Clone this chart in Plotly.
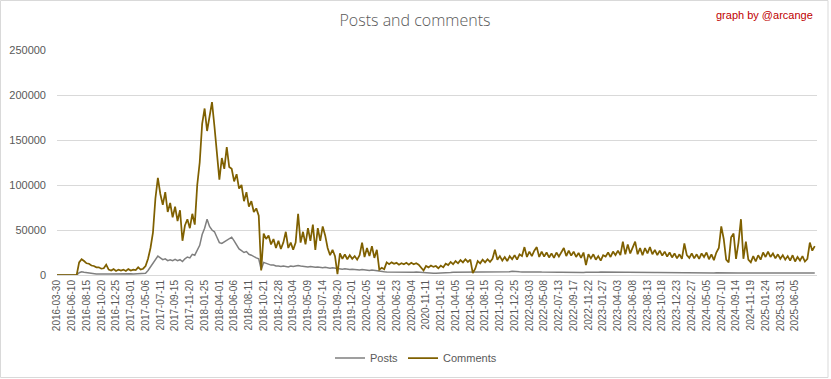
import plotly.graph_objects as go

# Category tick labels (every 66th day on the category axis)
tick_labels = [
    "2016-03-30", "2016-06-10", "2016-08-15", "2016-10-20", "2016-12-25", "2017-03-01",
    "2017-05-06", "2017-07-11", "2017-09-15", "2017-11-20", "2018-01-25", "2018-04-01",
    "2018-06-06", "2018-08-11", "2018-10-21", "2018-12-28", "2019-03-04", "2019-05-09",
    "2019-07-14", "2019-09-20", "2019-12-01", "2020-02-05", "2020-04-16", "2020-06-23",
    "2020-09-04", "2020-11-11", "2021-01-16", "2021-04-05", "2021-06-10", "2021-08-15",
    "2021-10-20", "2021-12-25", "2022-03-03", "2022-05-08", "2022-07-13", "2022-09-17",
    "2022-11-22", "2023-01-27", "2023-04-03", "2023-06-08", "2023-08-13", "2023-10-18",
    "2023-12-23", "2024-02-27", "2024-05-05", "2024-07-10", "2024-09-14", "2024-11-19",
    "2025-01-24", "2025-03-31", "2025-06-05",
]
label_every = 66          # categories between labels
total_categories = 3398
sample_step = 11          # categories between samples

# Comments, sampled every 11 categories (thousands)
comments_k = [
    0, 0, 0, 0, 0, 0, 0, 0, 0,
    14, 17.5, 15.5, 13, 12.5, 10.5, 10, 8.5, 8.5, 7, 7.5,
    11.5,
    6, 5, 6.5, 4.5, 6, 5, 6, 4.5, 6.5, 5, 6, 5.5, 8.5, 6, 7,
    10, 18, 30, 47, 85, 108,
    90, 78, 92, 70, 80, 64, 76, 60, 72,
    38,
    55, 62, 52, 68, 56,
    100, 125, 168, 185, 160, 175, 192, 165,
    132, 106, 130, 118, 142, 120, 118, 104, 112, 96, 100, 82, 92, 76, 82, 70, 74, 66,
    5,
    46, 40, 44, 34, 40, 30, 38, 29, 36, 48, 30, 36, 28, 36,
    68,
    36, 48, 34, 52, 38, 56, 28, 52, 38, 54, 44,
    30, 22, 28, 21,
    1,
    24, 18, 23, 17.5, 22, 18, 21, 17, 22, 36, 20, 30, 21, 32, 19, 28,
    6, 8, 6.5,
    14, 12, 14, 12.5, 13.5, 11.5, 13, 12, 13.5, 11.5, 13.5, 12, 13, 11.5,
    8, 5,
    10, 8.5, 10.5, 9, 10, 7.5, 10.5, 8.5,
    12.5, 11, 14.5, 12, 15.5, 13, 16.5, 14, 17.5, 14.5, 17,
    2, 7,
    15.5, 13, 17, 14, 17.5, 14.5, 18,
    28,
    17, 21, 16, 20, 15.5, 21, 17.5, 22, 17, 23, 21,
    31,
    20, 26, 21, 27, 31, 20, 26, 20.5, 25, 19.5, 24, 19, 25, 20.5, 26,
    30,
    21, 27, 21.5, 26, 20, 24.5, 19, 25,
    11,
    23, 18.5, 23, 17, 21, 16, 22, 20.5, 25, 20, 26, 22, 27, 22,
    37,
    23, 34, 24, 31, 37, 23, 30, 22, 30, 24,
    31, 23, 28, 22, 27, 21.5, 26, 20.5, 25, 19.5, 24, 18.5, 23, 18,
    35,
    22, 19, 24, 18.5, 23, 18, 24, 20, 25, 17.5, 23, 16.5, 25,
    30, 54, 40, 17, 14, 42, 46, 18, 36, 62, 18, 37,
    17, 14, 21, 15, 22, 17, 25, 20, 26, 20, 24, 18.5, 23, 18, 22, 17, 21, 16, 22, 15,
    20, 16, 21, 15, 18,
    36, 27, 32,
]

# Posts, sampled every 11 categories (thousands)
posts_k = [
    0, 0, 0, 0, 0, 0, 0, 0, 0,
    2.5, 3.5, 3, 2.5, 2, 1.8, 1.5,
    1.2, 1, 1.3, 1, 1.2, 1, 1.1, 1, 1.2, 1, 1.1, 1, 1.2, 1, 1.3, 1.1, 1.4, 1.2, 1.3, 1.5,
    2, 5, 9, 14, 18, 21,
    19, 17, 18, 16, 17, 16, 17.5, 16, 17, 15, 18, 20, 19, 23, 22,
    28, 33, 45, 52, 62, 54, 50, 48, 42, 36, 35, 37, 39, 40, 42, 38, 33, 29, 27, 25,
    26, 23, 22, 20, 19, 18,
    6,
    14, 13, 12, 11, 11, 10, 10, 9.5, 10, 9.5, 9, 10, 9.5, 10, 10.5, 10, 9.5,
    9.5, 9, 9.5, 9, 8.5, 9, 8.5, 8, 8.5, 8, 7.5, 8, 7.5, 7, 7, 6.5, 7, 6.5, 6, 6.5,
    6, 6, 5.5, 6, 5.5, 5.5, 5, 5.5, 5, 5,
    3.8, 3.6, 3.5, 3.4, 3.3, 3.4, 3.3, 3.3, 3.4, 3.3, 3.2, 3.3, 3.2, 3.2, 3.1, 3.2, 3,
    2.2, 2, 2, 1.9, 2, 1.9, 2, 2, 2.1, 2.2, 2.4, 2.6,
    2.8, 3, 3, 3.1, 3, 3, 3.1, 3, 3.2, 3,
    3.1, 3, 3.2, 3.1, 3.2, 3.3, 3.2, 3.4, 3.3, 3.5,
    3.4, 3.6, 3.5, 3.8, 3.6, 4.2, 3.7, 3.6, 3.5, 3.4,
    3.5, 3.4, 3.3, 3.4, 3.3, 3.2, 3.3, 3.2, 3.3, 3.2,
    3.1, 3.2, 3.1, 3.2, 3.1, 3.1, 3, 3.1, 3, 3.1,
    3, 3, 2.9, 3, 2.9, 3, 2.9, 3.1, 3, 3.2,
    3.1, 3.3, 3.2, 3.4, 3.3, 3.2, 3.3, 3.2, 3.1, 3.2,
    3.1, 3, 3.1, 3, 3, 2.9, 3, 2.9, 2.9, 2.8,
    2.9, 2.8, 2.8, 2.7, 2.8, 2.7, 2.7, 2.6, 2.7, 2.6,
    2.7, 2.6, 2.6, 2.5, 2.6, 2.5, 2.6, 2.5, 2.5, 2.4,
    2.5, 2.4, 2.5, 2.4, 2.4, 2.3, 2.4, 2.3, 2.4, 2.3,
    2.4, 2.3, 2.3, 2.2, 2.3, 2.2, 2.3, 2.2, 2.3, 2.2,
    2.3, 2.2, 2.2, 2.1, 2.2, 2.1, 2.2, 2.1, 2.2, 2.1,
    2.2, 2.1, 2.1, 2.2, 2.1, 2.2, 2.1, 2.2, 2.1, 2.2,
    2.1, 2.2, 2.1, 2.2, 2.2, 2.1, 2.3, 2.2, 2.3,
]

y_ticks = [0, 50000, 100000, 150000, 200000, 250000]

comments = [v * 1000 for v in comments_k]
posts = [v * 1000 for v in posts_k]
x_comments = [i * sample_step for i in range(len(comments))]
x_posts = [i * sample_step for i in range(len(posts))]
tick_pos = [i * label_every for i in range(len(tick_labels))]

fig = go.Figure()
fig.add_trace(go.Scatter(x=x_posts, y=posts, mode="lines", name="Posts",
                         line=dict(color="#7f7f7f", width=1.5)))
fig.add_trace(go.Scatter(x=x_comments, y=comments, mode="lines", name="Comments",
                         line=dict(color="#7f6000", width=1.75)))

L, R, T, B = 57, 14, 50, 104
W, H = 831, 379
pw = W - L - R
ph = H - T - B

fig.update_layout(
    width=W, height=H,
    margin=dict(l=L, r=R, t=T, b=B, autoexpand=False),
    paper_bgcolor="white", plot_bgcolor="white",
    font=dict(family="Liberation Sans", color="#595959"),
    title=dict(text="Posts and comments", x=(415 - L) / pw, xanchor="center", xref="paper",
               y=1 - 20 / H, yanchor="middle",
               font=dict(family="Open Sans", size=16, color="#595959", weight=300)),
    showlegend=True,
    legend=dict(orientation="h", x=(416 - L) / pw, xanchor="center",
                y=(275 - 358) / ph, yanchor="middle",
                font=dict(size=11, color="#595959"), bgcolor="rgba(0,0,0,0)",
                itemwidth=30),
    xaxis=dict(range=[0, total_categories], tickmode="array", tickvals=tick_pos,
               ticktext=tick_labels, tickangle=-90, tickfont=dict(size=10, color="#595959"),
               showgrid=False, zeroline=False, showline=True, linecolor="#d9d9d9",
               ticks="", automargin=False),
    yaxis=dict(range=[0, 250000], tickmode="array", tickvals=y_ticks,
               ticktext=[str(v) for v in y_ticks], tickfont=dict(size=11, color="#595959"),
               showgrid=True, gridcolor="#d9d9d9", gridwidth=1, zeroline=False,
               showline=False, ticks="", ticklabelstandoff=10, automargin=False),
    annotations=[dict(text="graph by @arcange", xref="paper", yref="paper",
                      x=(815 - L) / pw, xanchor="right", y=(275 - 15) / ph, yanchor="middle",
                      showarrow=False, font=dict(family="Liberation Sans", size=11, color="#c00000"))],
    shapes=[dict(type="rect", xref="paper", yref="paper",
                 x0=(0.5 - L) / pw, x1=(828 - L) / pw,
                 y0=(275 - 377.5) / ph, y1=(275 - 0.5) / ph,
                 line=dict(color="#d9d9d9", width=1), layer="below")],
)

fig.write_html("out.html", config={"displayModeBar": False},
               post_script="document.body.style.margin='0';")
